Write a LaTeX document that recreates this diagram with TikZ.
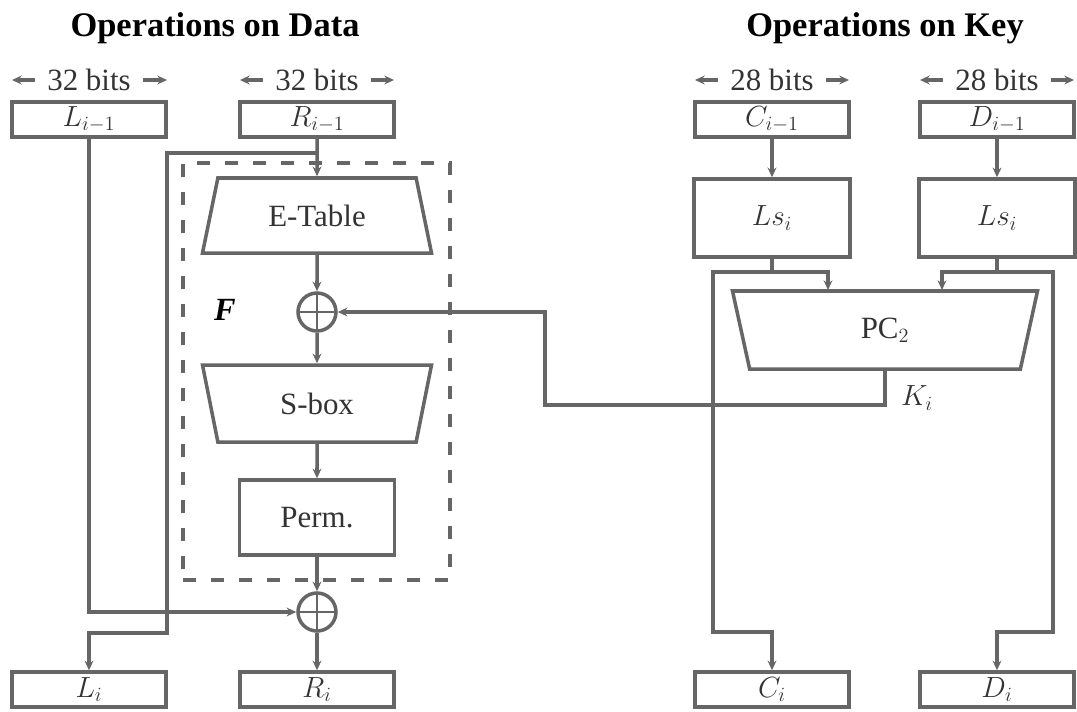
\documentclass[tikz,border=0pt]{standalone}
\usepackage{fontspec}
\setmainfont{Liberation Serif}
\usetikzlibrary{positioning, arrows.meta, shapes.geometric}
\tikzset{
>={Stealth[length=2.4mm, width=2.2mm]}, % small filled arrow heads
wire/.style={draw=black!60, line width=2.5pt}, % every connecting line
every node/.style={font=\fontsize{22}{26}\selectfont, text=black!80},
heading/.style={font=\fontsize{24.5}{28}\selectfont\bfseries, text=black},
bits/.style={inner xsep=3mm},
reg/.style={wire, rectangle, minimum width=38.5mm, minimum height=8.75mm, inner sep=0pt}, % register boxes
blk/.style={wire, rectangle, minimum width=39mm, minimum height=19.5mm}, % function blocks
expand/.style={wire, trapezium, trapezium stretches body, trapezium angle=63.7, minimum height=18.75mm, minimum width=57.25mm}, % wide at the bottom
shrink/.style={wire, trapezium, trapezium stretches body, trapezium angle=116.3, minimum height=19.25mm, minimum width=57.25mm}, % wide at the top
xorop/.style={wire, circle, minimum size=9.5mm, inner sep=0pt,
  path picture={\draw[draw=black!60, line width=1.8pt] (path picture bounding box.north) -- (path picture bounding box.south)
  (path picture bounding box.west) -- (path picture bounding box.east);}},
}

\begin{document}
\begin{tikzpicture}[x=0.25mm, y=-0.25mm]
\useasboundingbox (0,0) rectangle (1077,711);
        % headings
        \node[heading] (hdata) at (215,28) {Operations on Data};
        \node[heading] (hkey) at (885,28) {Operations on Key};
        % widths
        \node[bits] (wl) at (89,80) {32 bits};
        \node[bits] (wr) at (317,80) {32 bits};
        \node[bits] (wc) at (772,80) {28 bits};
        \node[bits] (wd) at (997,80) {28 bits};
        \coordinate (wl-a) at (12,80); \coordinate (wl-b) at (167,80);
        \coordinate (wr-a) at (240,80); \coordinate (wr-b) at (394,80);
        \coordinate (wc-a) at (695,80); \coordinate (wc-b) at (849,80);
        \coordinate (wd-a) at (920,80); \coordinate (wd-b) at (1074,80);
        \draw[wire, ->] (wl) -- (wl-a); \draw[wire, ->] (wl) -- (wl-b);
        \draw[wire, ->] (wr) -- (wr-a); \draw[wire, ->] (wr) -- (wr-b);
        \draw[wire, ->] (wc) -- (wc-a); \draw[wire, ->] (wc) -- (wc-b);
        \draw[wire, ->] (wd) -- (wd-a); \draw[wire, ->] (wd) -- (wd-b);
        % registers
        \node[reg] (lprev) at (89,119.5) {$L_{i-1}$};
        \node[reg] (rprev) at (317,119.5) {$R_{i-1}$};
        \node[reg] (cprev) at (772,119.5) {$C_{i-1}$};
        \node[reg] (dprev) at (997,119.5) {$D_{i-1}$};
        \node[reg] (li) at (89,689.5) {$L_i$};
        \node[reg] (ri) at (317,689.5) {$R_i$};
        \node[reg] (ci) at (772,689.5) {$C_i$};
        \node[reg] (di) at (997,689.5) {$D_i$};
        % F function
        \node[draw=black!60, line width=2.5pt, dash pattern=on 3.3mm off 3.7mm, minimum width=66.75mm, minimum height=104.25mm] (fbox) at (316.5,371.5) {};
        \node[font=\fontsize{23}{26}\selectfont\bfseries\itshape, text=black] (flabel) at (225,310) {F};
        \node[expand] (etab) at (317,215.5) {E-Table};
        \node[xorop] (xor1) at (317,312) {};
        \node[shrink] (sbox) at (317,403.5) {S-box};
        \node[blk, minimum height=18.75mm, minimum width=38.75mm] (perm) at (317,517.5) {Perm.};
        \node[xorop] (xor2) at (317,612) {};
        % key schedule
        \node[blk] (ls1) at (772,218) {$Ls_i$};
        \node[blk] (ls2) at (997,218) {$Ls_i$};
        \node[shrink, minimum width=76.25mm, minimum height=19.5mm, trapezium angle=116.6] (pc) at (885,330) {PC$_2$};
        \node (klabel) at (917,398) {$K_i$};
        \coordinate (rsplit) at (317,153);
        \coordinate (rdown) at (167,633);
        \coordinate (csplit) at (772,272);
        \coordinate (cin) at (828,290);
        \coordinate (cleft) at (713,632);
        \coordinate (dsplit) at (997,272);
        \coordinate (din) at (942,290);
        \coordinate (dright) at (1053,632);
        \coordinate (kbend) at (545,405);
        \draw[wire]
        (rprev) edge[->] (etab)
        (etab) edge[->] (xor1)
        (xor1) edge[->] (sbox)
        (sbox) edge[->] (perm)
        (perm) edge[->] (xor2)
        (xor2) edge[->] (ri)
        (cprev) edge[->] (ls1)
        (dprev) edge[->] (ls2)
        (ls1) edge (csplit)
        (ls2) edge (dsplit)
        ;
        %Swap and XOR lines
        \draw[wire, ->] (rsplit) -| (rdown) -| (li.north);
        \draw[wire, ->] (lprev.south) |- (xor2.west);
        %Shift outputs
        \draw[wire, ->] (csplit) -| (cin);
        \draw[wire, ->] (csplit) -| (cleft) -| (ci.north);
        \draw[wire, ->] (dsplit) -| (din);
        \draw[wire, ->] (dsplit) -| (dright) -| (di.north);
        %Round key
        \draw[wire, ->] (pc.south) |- (kbend) |- (xor1.east);
\end{tikzpicture}
\end{document}
